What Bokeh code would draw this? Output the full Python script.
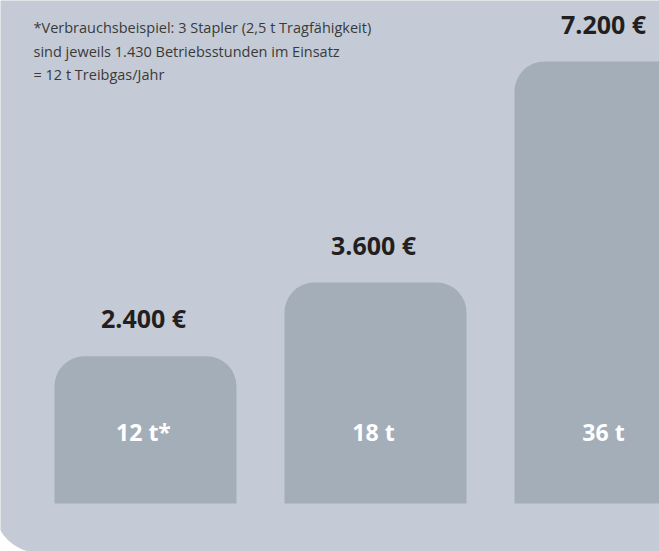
from bokeh.plotting import figure
from bokeh.models import Range1d, BoxAnnotation
from bokeh.core.properties import value
from bokeh.embed import file_html
from bokeh.resources import INLINE

# ---- data ----
categories = ["12 t*", "18 t", "36 t"]
costs = [2400, 3600, 7200]
cost_labels = ["2.400 €", "3.600 €", "7.200 €"]
footnote = [
    "*Verbrauchsbeispiel: 3 Stapler (2,5 t Tragfähigkeit)",
    "sind jeweils 1.430 Betriebsstunden im Einsatz",
    "= 12 t Treibgas/Jahr",
]

# ---- layout constants ----
W, H = 659, 551
PITCH = 230.0                 # px per category
PX_PER_EUR = 442.0 / 7200.0   # vertical scale
BASE_PX = 503                 # zero line, px from top
x_start = -145.0 / PITCH
y_start = -(H - BASE_PX) / PX_PER_EUR
y_end = BASE_PX / PX_PER_EUR
BAR_W = 182.0 / PITCH

BG = "#c4cbd6"
BAR = "#a3aeb9"
DARK = "#231f20"


def px_x(px):
    return x_start + px / PITCH


def px_y(px):
    return (BASE_PX - px) / PX_PER_EUR


p = figure(width=W, height=H, output_backend="svg", toolbar_location=None,
           x_range=Range1d(x_start, x_start + W / PITCH),
           y_range=Range1d(y_start, y_end),
           x_axis_location=None, y_axis_location=None,
           min_border=0, outline_line_color=None,
           background_fill_color="white", border_fill_color="white")
p.grid.visible = False

# background panel with rounded bottom-left corner
p.add_layout(BoxAnnotation(left=px_x(-6), right=px_x(720), bottom=px_y(552), top=px_y(-40),
                           fill_color=BG, fill_alpha=1, line_color=None, level="underlay",
                           border_radius=dict(top_left=0, top_right=0, bottom_right=0, bottom_left=44)))

xs = list(range(len(categories)))
for i, c in zip(xs, costs):
    p.add_layout(BoxAnnotation(left=i - BAR_W / 2, right=i + BAR_W / 2, bottom=0, top=c,
                               fill_color=BAR, fill_alpha=1, line_color=None, level="underlay",
                               border_radius=dict(top_left=30, top_right=30, bottom_right=0, bottom_left=0)))

# value labels above bars
p.text(x=xs, y=costs, text=cost_labels, y_offset=-38, x_offset=-2,
       text_align="center", text_baseline="alphabetic",
       text_font=value("Open Sans"), text_font_style="bold",
       text_font_size="25px", text_color=DARK)

# category labels inside bars
p.text(x=xs, y=[0] * len(xs), text=categories, y_offset=-72, x_offset=-2,
       text_align="center", text_baseline="alphabetic",
       text_font=value("Open Sans"), text_font_style="bold",
       text_font_size="23px", text_color="white")

# footnote
p.text(x=[px_x(33)] * 3, y=[px_y(27), px_y(50.5), px_y(74)], text=footnote,
       text_align="left", text_baseline="alphabetic",
       text_font=value("Open Sans"), text_font_size="14.5px", text_color="#3a3a3a")

open("out.html", "w").write(file_html(p, INLINE))
